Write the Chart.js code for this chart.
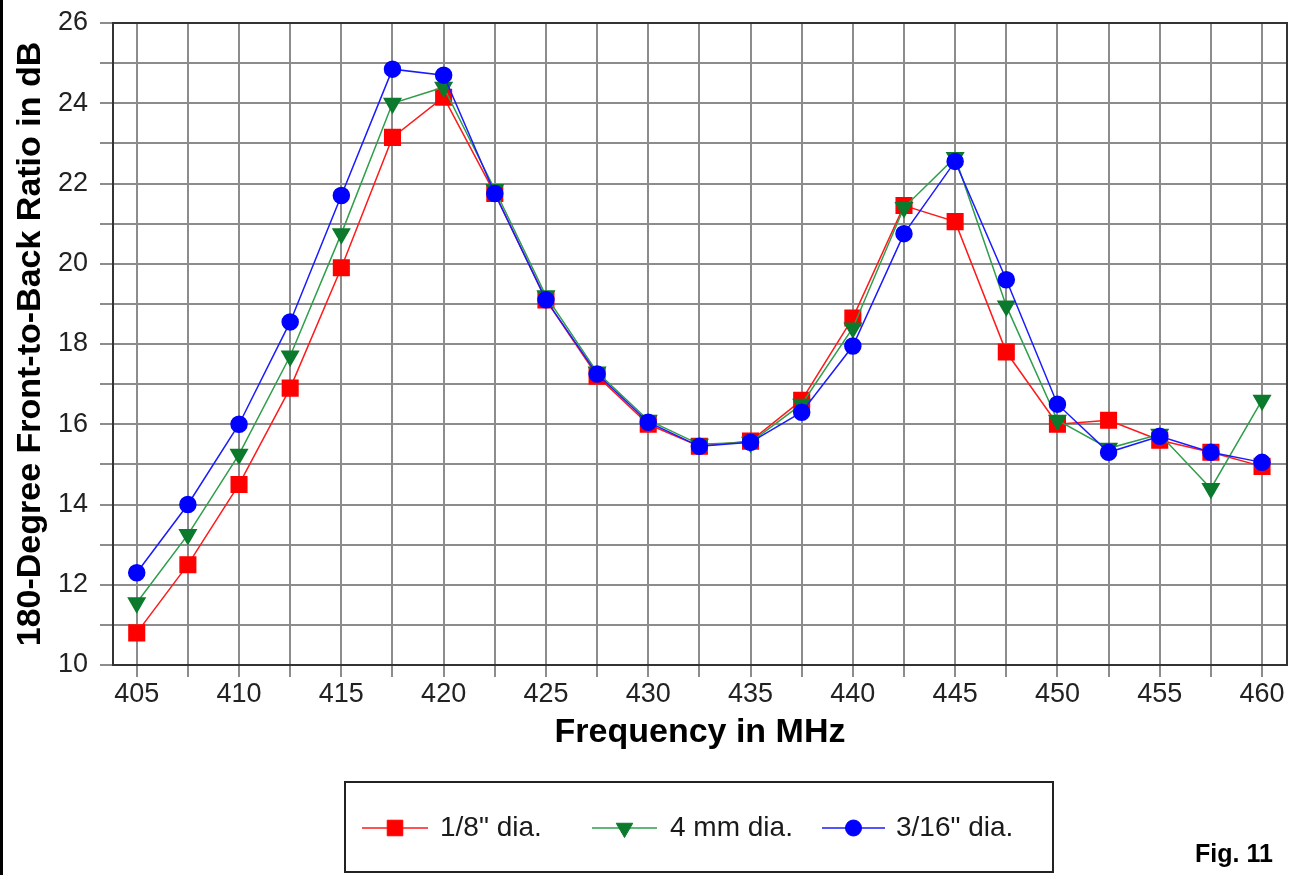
<!DOCTYPE html>
<html lang="en">
<head>
  <meta charset="UTF-8" />
  <title>Fig. 11 - Front-to-Back Ratio</title>
  <script src="https://cdn.jsdelivr.net/npm/chart.js"></script>
  <style>
    html, body { margin: 0; padding: 0; background: #fff; }
    #wrap { width: 1293px; height: 875px; }
  </style>
</head>
<body>
  <div id="wrap">
    <canvas id="fbChart" width="1293" height="875"></canvas>
  </div>

  <script>
    // frequencies in MHz
    const freqs = [405, 407.5, 410, 412.5, 415, 417.5, 420, 422.5, 425, 427.5, 430, 432.5,
                   435, 437.5, 440, 442.5, 445, 447.5, 450, 452.5, 455, 457.5, 460];

    // 180-degree front-to-back ratio, dB
    const eighthInch = [10.8, 12.5, 14.5, 16.9, 19.9, 23.15, 24.15, 21.75, 19.1, 17.2, 16.0, 15.45,
                        15.58, 16.6, 18.65, 21.45, 21.05, 17.8, 16.0, 16.1, 15.6, 15.3, 14.95];
    const fourMm     = [11.55, 13.25, 15.25, 17.7, 20.75, 24.0, 24.4, 21.85, 19.2, 17.3, 16.1, 15.5,
                        15.55, 16.5, 18.4, 21.4, 22.65, 18.95, 16.1, 15.4, 15.75, 14.4, 16.6];
    const threeSixteenths = [12.3, 14.0, 16.0, 18.55, 21.7, 24.85, 24.7, 21.75, 19.1, 17.25, 16.05, 15.45,
                             15.55, 16.3, 17.95, 20.75, 22.55, 19.6, 16.5, 15.3, 15.7, 15.3, 15.05];

    const seriesNames = ['1/8" dia.', '4 mm dia.', '3/16" dia.'];

    // axis ticks
    const xTicks = freqs.slice();
    const yTicks = [10, 11, 12, 13, 14, 15, 16, 17, 18, 19, 20, 21, 22, 23, 24, 25, 26];

    const FONT = "'Liberation Sans', Arial, sans-serif";
    const GRID = '#8c8c8c';

    const toPoints = vals => vals.map((v, i) => ({ x: freqs[i], y: v }));

    // frame, left stripe, legend box and figure label
    const decorations = {
      id: 'decorations',
      afterDraw(chart) {
        const ctx = chart.ctx;
        const a = chart.chartArea;
        ctx.save();
        ctx.strokeStyle = '#333';
        ctx.lineWidth = 2;
        ctx.strokeRect(a.left, a.top, a.right - a.left, a.bottom - a.top);

        ctx.fillStyle = '#000';
        ctx.fillRect(0, 0, 3, chart.height);

        // legend
        ctx.strokeStyle = '#222';
        ctx.lineWidth = 2;
        ctx.strokeRect(345, 782, 708, 90);

        const slots = [
          { x0: 362, x1: 428, text: 440 },
          { x0: 592, x1: 657, text: 670 },
          { x0: 822, x1: 885, text: 896 }
        ];
        const ly = 828;
        chart.data.datasets.forEach((ds, i) => {
          const s = slots[i];
          ctx.strokeStyle = ds.borderColor;
          ctx.lineWidth = ds.borderWidth;
          ctx.beginPath();
          ctx.moveTo(s.x0, ly);
          ctx.lineTo(s.x1, ly);
          ctx.stroke();
          ctx.fillStyle = ds.pointBackgroundColor;
          ctx.strokeStyle = ds.pointBorderColor;
          ctx.lineWidth = 1;
          Chart.helpers.drawPoint(ctx, {
            pointStyle: ds.pointStyle,
            radius: ds.pointRadius,
            rotation: ds.pointRotation || 0,
            borderWidth: 1
          }, (s.x0 + s.x1) / 2, ly);
          ctx.fillStyle = '#1a1a1a';
          ctx.font = '28px ' + FONT;
          ctx.textAlign = 'left';
          ctx.textBaseline = 'middle';
          ctx.fillText(ds.label, s.text, ly);
        });

        ctx.fillStyle = '#000';
        ctx.font = 'bold 25px ' + FONT;
        ctx.textBaseline = 'middle';
        ctx.fillText('Fig. 11', 1195, 855);
        ctx.restore();
      }
    };

    new Chart(document.getElementById('fbChart'), {
      type: 'line',
      data: {
        datasets: [
          {
            label: seriesNames[0],
            data: toPoints(eighthInch),
            borderColor: '#ff1a1a',
            borderWidth: 1.5,
            pointStyle: 'rect',
            pointRadius: 11,
            pointBackgroundColor: '#ff0000',
            pointBorderColor: '#ff0000',
            order: 2
          },
          {
            label: seriesNames[1],
            data: toPoints(fourMm),
            borderColor: '#2f9e4a',
            borderWidth: 1.5,
            pointStyle: 'triangle',
            pointRotation: 180,
            pointRadius: 9.5,
            pointBackgroundColor: '#0b7a2c',
            pointBorderColor: '#0b7a2c',
            order: 1
          },
          {
            label: seriesNames[2],
            data: toPoints(threeSixteenths),
            borderColor: '#1a1aff',
            borderWidth: 1.5,
            pointStyle: 'circle',
            pointRadius: 8,
            pointBackgroundColor: '#0000ff',
            pointBorderColor: '#0000ff',
            order: 0
          }
        ]
      },
      options: {
        responsive: false,
        animation: false,
        layout: { autoPadding: false, padding: { left: 0, top: 23, right: 6, bottom: 120 } },
        plugins: {
          legend: { display: false },
          tooltip: { enabled: false }
        },
        scales: {
          x: {
            type: 'linear',
            min: 403.84,
            max: 461.22,
            afterBuildTicks: s => { s.ticks = xTicks.map(v => ({ value: v })); },
            afterFit: s => { s.height = 90; s.paddingLeft = 0; s.paddingRight = 0; },
            ticks: {
              autoSkip: false,
              maxRotation: 0,
              padding: 1,
              color: '#222',
              font: { family: FONT, size: 27 },
              callback: v => (v % 5 === 0 ? String(v) : '')
            },
            grid: { color: GRID, lineWidth: 2, tickLength: 12 },
            border: { display: false },
            title: {
              display: true,
              text: 'Frequency in MHz',
              color: '#000',
              font: { family: FONT, size: 34, weight: 'bold' },
              padding: { top: 0, bottom: 2 }
            }
          },
          y: {
            min: 10,
            max: 26,
            afterBuildTicks: s => { s.ticks = yTicks.map(v => ({ value: v })); },
            afterFit: s => { s.width = 113; s.paddingTop = 0; s.paddingBottom = 0; },
            ticks: {
              autoSkip: false,
              padding: 12,
              color: '#222',
              font: { family: FONT, size: 27 },
              callback: v => (v % 2 === 0 ? String(v) : '')
            },
            grid: { color: GRID, lineWidth: 2, tickLength: 13 },
            border: { display: false },
            title: {
              display: true,
              text: '180-Degree Front-to-Back Ratio in dB',
              color: '#000',
              font: { family: FONT, size: 34, weight: 'bold' },
              padding: { top: 10, bottom: 0 }
            }
          }
        }
      },
      plugins: [decorations]
    });
  </script>
</body>
</html>
